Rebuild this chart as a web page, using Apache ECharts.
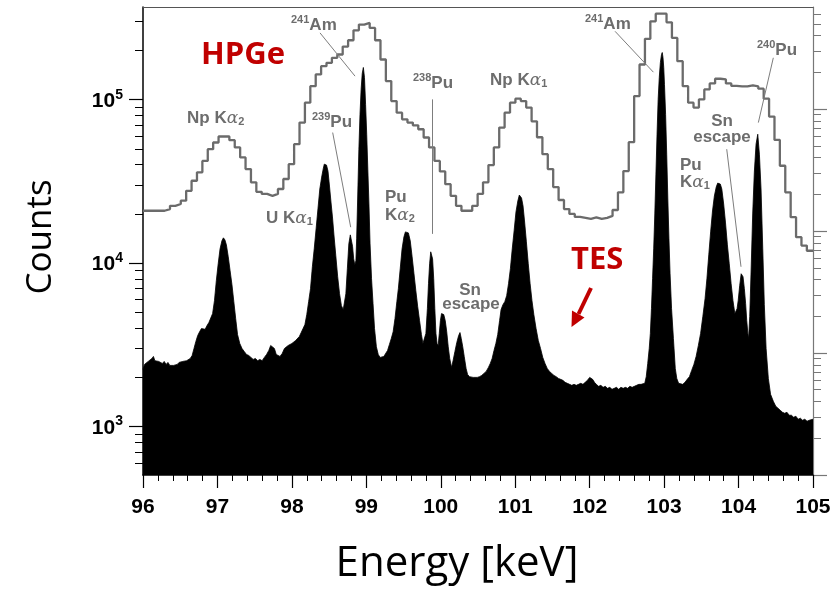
<!DOCTYPE html>
<html><head><meta charset="utf-8">
<script src="https://cdn.jsdelivr.net/npm/echarts@6/dist/echarts.min.js"></script>
<style>html,body{margin:0;padding:0;background:#fff}#c{width:836px;height:590px}</style>
</head><body><div id="c"></div>
<script>
// ---------------- data ----------------
const tesEnergy = [
96.000,96.020,96.045,96.070,96.095,96.120,96.140,96.160,96.185,96.210,96.235,96.260,96.285,96.310,96.335,96.360,96.385,96.410,96.435,96.460,
96.485,96.510,96.535,96.560,96.585,96.610,96.635,96.660,96.685,96.710,96.735,96.760,96.785,96.810,96.835,96.860,96.885,96.910,96.935,96.960,
96.985,97.010,97.035,97.060,97.080,97.100,97.120,97.145,97.170,97.195,97.220,97.245,97.270,97.300,97.330,97.360,97.390,97.420,97.450,97.480,
97.510,97.540,97.570,97.600,97.630,97.660,97.690,97.715,97.740,97.765,97.790,97.815,97.840,97.870,97.900,97.925,97.950,97.975,98.000,98.025,
98.050,98.075,98.100,98.125,98.150,98.175,98.200,98.225,98.250,98.275,98.300,98.325,98.350,98.375,98.400,98.420,98.435,98.450,98.465,98.485,
98.505,98.525,98.545,98.565,98.590,98.615,98.640,98.665,98.690,98.710,98.725,98.745,98.765,98.785,98.800,98.815,98.830,98.845,98.860,98.870,
98.885,98.900,98.915,98.930,98.945,98.960,98.975,98.990,99.005,99.020,99.035,99.050,99.070,99.090,99.110,99.135,99.160,99.185,99.210,99.235,
99.260,99.285,99.310,99.335,99.360,99.385,99.410,99.430,99.455,99.480,99.505,99.525,99.545,99.565,99.590,99.615,99.640,99.665,99.690,99.715,
99.740,99.760,99.780,99.800,99.820,99.835,99.850,99.865,99.878,99.890,99.905,99.920,99.935,99.950,99.965,99.980,99.995,100.010,100.025,100.040,
100.060,100.080,100.100,100.120,100.145,100.165,100.190,100.215,100.240,100.258,100.275,100.295,100.315,100.340,100.360,100.385,100.410,100.435,100.460,100.490,
100.520,100.550,100.580,100.610,100.640,100.665,100.690,100.715,100.740,100.765,100.790,100.810,100.835,100.860,100.885,100.910,100.935,100.960,100.985,101.010,
101.035,101.055,101.070,101.085,101.105,101.125,101.150,101.175,101.200,101.225,101.250,101.280,101.310,101.340,101.370,101.400,101.430,101.460,101.490,101.520,
101.550,101.580,101.610,101.640,101.670,101.700,101.730,101.760,101.790,101.820,101.850,101.880,101.910,101.940,101.970,102.000,102.020,102.040,102.065,102.090,
102.120,102.150,102.180,102.210,102.240,102.270,102.300,102.330,102.360,102.390,102.420,102.450,102.480,102.510,102.540,102.570,102.600,102.630,102.660,102.690,
102.715,102.740,102.760,102.780,102.800,102.815,102.830,102.845,102.860,102.875,102.890,102.905,102.920,102.935,102.950,102.965,102.975,102.985,102.995,103.005,
103.020,103.035,103.050,103.065,103.080,103.100,103.125,103.150,103.170,103.195,103.220,103.250,103.280,103.310,103.340,103.370,103.400,103.430,103.460,103.490,
103.520,103.550,103.575,103.600,103.625,103.650,103.675,103.700,103.720,103.735,103.755,103.775,103.800,103.825,103.850,103.875,103.900,103.925,103.950,103.965,
103.980,103.995,104.015,104.035,104.045,104.060,104.078,104.095,104.110,104.125,104.135,104.150,104.168,104.190,104.212,104.235,104.258,104.280,104.302,104.325,
104.346,104.370,104.400,104.430,104.467,104.500,104.530,104.560,104.590,104.620,104.650,104.680,104.710,104.740,104.770,104.800,104.830,104.860,104.890,104.920,
104.950,104.975,105.000
];
const tesCounts = [
2236,2398,2332,2502,2467,2609,2684,2526,2573,2502,2526,2432,2502,2398,2467,2365,2432,2365,2432,2398,
2467,2432,2502,2467,2526,2502,2609,2721,3002,3313,3603,3795,3975,4032,3935,4146,4325,4387,4908,5891,
7801,9904,12220,13680,14270,13870,12930,10930,8978,7373,5808,4576,3654,3221,3002,2879,2760,2721,2647,2573,
2609,2526,2573,2526,2647,2760,2919,3131,3176,3002,2760,2684,2684,2799,3002,3075,3131,3176,3221,3266,
3359,3454,3553,3758,3975,4206,4840,5808,6971,9494,12220,16190,21440,28390,33590,37580,40320,41290,39770,36540,
29610,23650,19160,14880,11080,8252,6498,5490,5192,5264,6498,9232,13120,14880,14680,12660,10620,9763,10330,14070,
26460,49770,81370,115600,144700,157400,136800,93620,61430,37580,22990,13120,8024,5646,3975,3075,2760,2647,2609,2684,
2760,2919,3176,3454,3795,4576,5808,6971,9232,12220,14470,15520,15960,15300,13680,10930,8604,6778,5415,4447,
3654,3221,3176,3706,5264,7480,9904,11720,12050,10620,8024,5264,3706,3221,3131,3706,4447,4908,5026,4840,
4447,3795,3075,2609,2300,2526,2879,3266,3603,3758,3454,3075,2684,2267,2084,2018,2055,1998,2018,1998,
2018,2055,2113,2174,2300,2432,2609,2919,3221,3654,4447,5192,5567,5808,6318,7480,9232,12220,15740,20550,
23980,26080,26460,25010,22360,18110,13490,9904,7480,5891,4840,3975,3359,3002,2647,2432,2267,2174,2113,2055,
2018,1970,1943,1916,1863,1837,1811,1786,1811,1786,1811,1837,1811,1863,1916,1998,2018,1943,1863,1811,
1761,1786,1736,1761,1712,1736,1688,1712,1736,1688,1736,1712,1736,1712,1761,1736,1761,1786,1811,1811,
1837,1837,2018,2432,3002,3706,5264,8024,12220,19980,35040,61430,100400,136800,168900,188900,194300,181100,157400,124000,
81370,46400,24670,14070,8604,5264,3454,2267,1970,1837,1786,1811,1863,1943,2018,2204,2398,2684,3131,3706,
4706,6058,8024,11230,15520,20840,25730,29200,30870,31180,30440,28390,22990,17610,12930,9904,7480,5891,4908,4840,
5264,5891,7271,8604,8815,8252,6971,5646,4447,3706,3454,4706,8815,19980,36040,53380,61430,46400,28390,12220,
5567,3002,1970,1574,1427,1330,1293,1257,1222,1205,1222,1172,1172,1139,1156,1108,1124,1092,1108,1077,
1092,1062,1108
];
// HPGe histogram: left bin edges (keV) and counts per bin
const hpgeEnergy = [
96.0000,96.0725,96.1450,96.2175,96.2900,96.3625,96.4350,96.5075,96.5800,96.6525,96.7250,96.7975,96.8700,96.9425,97.0150,97.0875,
97.1600,97.2325,97.3050,97.3775,97.4500,97.5225,97.5950,97.6675,97.7400,97.8125,97.8850,97.9575,98.0300,98.1025,98.1750,98.2475,
98.3200,98.3925,98.4650,98.5375,98.6100,98.6825,98.7550,98.8275,98.9000,98.9725,99.0450,99.1175,99.1900,99.2625,99.3350,99.4075,
99.4800,99.5525,99.6250,99.6975,99.7700,99.8425,99.9150,99.9875,100.0600,100.1325,100.2050,100.2775,100.3500,100.4225,100.4950,100.5675,
100.6400,100.7125,100.7850,100.8575,100.9300,101.0025,101.0750,101.1475,101.2200,101.2925,101.3650,101.4375,101.5100,101.5825,101.6550,101.7275,
101.8000,101.8725,101.9450,102.0175,102.0900,102.1625,102.2350,102.3075,102.3800,102.4525,102.5250,102.5975,102.6700,102.7425,102.8150,102.8875,
102.9600,103.0325,103.1050,103.1775,103.2500,103.3225,103.3950,103.4675,103.5400,103.6125,103.6850,103.7575,103.8300,103.9025,103.9750,104.0475,
104.1200,104.1925,104.2650,104.3375,104.4100,104.4825,104.5550,104.6275,104.7000,104.7725,104.8450,104.9175,105.0000
];
const hpgeCounts = [
20900,20900,20900,20900,21400,22400,23000,24100,27700,31900,35900,42200,49800,54700,59500,59500,
56500,51000,44300,37600,31200,27300,26500,25800,26500,28400,32700,40300,53400,72400,95900,121000,
142700,160300,168100,180400,188900,211300,230900,265700,287900,294800,274800,230900,176100,129900,98100,83300,
75850,72400,69700,65900,58660,51000,42200,36390,30400,25800,22400,20900,20900,22400,26500,31200,
39770,51000,67500,83300,95900,101400,98100,89400,73700,58900,46400,37600,29200,24320,21400,19980,
19160,18900,18630,19030,18630,18900,19430,21130,27100,36540,54900,105200,164100,235500,301500,335900,
335900,297300,238800,172000,121000,95900,89400,100400,115600,125700,134300,133000,125700,121400,120500,120500,
122200,120500,116700,101400,78800,56700,39400,27100,19100,14400,12800,11900,11900
];
// axis ticks
const xMin = 96, xMax = 105, xStep = 1;
const yMajorTicks = [1000, 10000, 100000];
const yMinorTicks = [600,700,800,900,2000,3000,4000,5000,6000,7000,8000,9000,
  20000,30000,40000,50000,60000,70000,80000,90000,200000,300000];
const rightMajorTicks = [1, 10, 100, 1000];
const rightMinorTicks = [2,3,4,5,6,7,8,9,20,30,40,50,60,70,80,90,200,300,400,500,600,700,800,900,2000,3000,4000,5000,6000];
// annotation leader lines [[E1,count1],[E2,count2]]
const leaderLines = [
  [[98.378, 256200], [98.848, 139300]],
  [[98.548, 62920], [98.790, 16580]],
  [[99.892, 100400], [99.892, 15090]],
  [[102.341, 262000], [102.856, 147300]],
  [[104.467, 180400], [104.266, 72400]],
  [[103.841, 49770], [104.033, 9495]]
];

// ---------------- chart ----------------
const chart = echarts.init(document.getElementById('c'), null, {renderer: 'canvas'});
const GRAY = '#6b6b6b';
const ANN = '#6d6d6d';
const lbl = {
  m: {fontFamily: 'Liberation Sans', fontWeight: 'bold', fontSize: 17, lineHeight: 20, verticalAlign: 'bottom', fill: ANN, color: ANN},
  a: {fontFamily: 'DejaVu Serif', fontStyle: 'italic', fontSize: 17, lineHeight: 20, verticalAlign: 'bottom', fill: ANN, color: ANN},
  sup: {fontFamily: 'Liberation Sans', fontWeight: 'bold', fontSize: 11, lineHeight: 11, verticalAlign: 'top', fill: ANN, color: ANN},
  sub: {fontFamily: 'Liberation Sans', fontWeight: 'bold', fontSize: 11, lineHeight: 11, verticalAlign: 'bottom', fill: ANN, color: ANN}
};
function ann(x, y, text, align) {
  return {type: 'text', x: x, y: y, z: 100, silent: true,
    style: {text: text, rich: lbl, fill: ANN, font: 'bold 17px "Liberation Sans"',
      textAlign: align || 'left', align: align || 'left', textVerticalAlign: 'middle', verticalAlign: 'middle'}};
}
function big(x, y, text) {
  return {type: 'text', x: x, y: y, z: 100, silent: true,
    style: {text: text, fill: '#c00000', font: 'bold 31px "Open Sans"', textAlign: 'left', align: 'left',
      textVerticalAlign: 'middle', verticalAlign: 'middle'}};
}

const option = {
  animation: false,
  backgroundColor: '#fff',
  grid: {left: 143, right: 23, top: 7, bottom: 113, containLabel: false},
  xAxis: [
    {type: 'value', min: xMin, max: xMax, interval: xStep, position: 'bottom',
     name: 'Energy [keV]', nameLocation: 'middle', nameGap: 68,
     nameTextStyle: {fontFamily: 'Open Sans', fontSize: 42, color: '#000', padding: [0, 42, 0, 0]},
     axisLine: {show: true, onZero: false, lineStyle: {color: '#000', width: 1.5}},
     axisTick: {show: true, length: 13, inside: false, lineStyle: {color: '#000', width: 1.2}},
     minorTick: {show: true, splitNumber: 5, length: 6, lineStyle: {color: '#000', width: 1}},
     axisLabel: {margin: 22, fontFamily: 'Liberation Sans', fontWeight: 'bold', fontSize: 21, color: '#000'},
     splitLine: {show: false}, minorSplitLine: {show: false}},
    {type: 'value', min: xMin, max: xMax, position: 'top',
     axisLine: {show: true, onZero: false, lineStyle: {color: '#555', width: 1.2}},
     axisTick: {show: false}, axisLabel: {show: false}, splitLine: {show: false}}
  ],
  yAxis: [
    {type: 'log', logBase: 10, min: 505, max: 369000, position: 'left',
     name: 'Counts', nameLocation: 'middle', nameGap: 84, nameRotate: 90,
     nameTextStyle: {fontFamily: 'Open Sans', fontSize: 35, color: '#000', padding: [0, 0, 0, 8]},
     axisLine: {show: true, onZero: false, lineStyle: {color: '#000', width: 1.5}},
     axisTick: {show: true, customValues: yMajorTicks, length: 14, lineStyle: {color: '#000', width: 1.2}},
     axisLabel: {customValues: yMajorTicks, margin: 20,
       formatter: function (v) { return '{b|10}{s|' + Math.round(Math.log10(v)) + '}'; },
       rich: {
         b: {fontFamily: 'Liberation Sans', fontWeight: 'bold', fontSize: 21, lineHeight: 24, verticalAlign: 'bottom', color: '#000'},
         s: {fontFamily: 'Liberation Sans', fontWeight: 'bold', fontSize: 14, lineHeight: 14, verticalAlign: 'top', color: '#000'}
       }},
     splitLine: {show: false}},
    {type: 'log', logBase: 10, min: 505, max: 369000, position: 'left',
     axisLine: {show: false},
     axisTick: {show: true, customValues: yMinorTicks, length: 8, lineStyle: {color: '#000', width: 1}},
     axisLabel: {show: false}, splitLine: {show: false}},
    {type: 'log', logBase: 10, min: 1, max: 6871, position: 'right',
     axisLine: {show: true, onZero: false, lineStyle: {color: '#777', width: 1.2}},
     axisTick: {show: true, customValues: rightMajorTicks, length: 14, lineStyle: {color: '#777', width: 1.2}},
     axisLabel: {show: false}, splitLine: {show: false}},
    {type: 'log', logBase: 10, min: 1, max: 6871, position: 'right',
     axisLine: {show: false},
     axisTick: {show: true, customValues: rightMinorTicks, length: 8, lineStyle: {color: '#777', width: 1}},
     axisLabel: {show: false}, splitLine: {show: false}}
  ],
  series: [
    {name: 'TES', type: 'line', xAxisIndex: 0, yAxisIndex: 0, z: 2,
     data: tesEnergy.map(function (e, i) { return [e, tesCounts[i]]; }),
     showSymbol: false, symbol: 'none', sampling: null,
     lineStyle: {color: '#000', width: 0.8},
     areaStyle: {color: '#000', opacity: 1, origin: 'start'}},
    {name: 'HPGe', type: 'line', xAxisIndex: 0, yAxisIndex: 0, z: 3, step: 'end',
     data: hpgeEnergy.map(function (e, i) { return [e, hpgeCounts[i]]; }),
     showSymbol: false, symbol: 'none',
     lineStyle: {color: GRAY, width: 2.3},
     markLine: {silent: true, symbol: ['none', 'none'], animation: false,
       label: {show: false}, emphasis: {disabled: true},
       lineStyle: {color: '#7d7d7d', width: 1, type: 'solid'},
       data: leaderLines.map(function (l) { return [{coord: l[0]}, {coord: l[1]}]; })}}
  ],
  graphic: [
    big(201, 55, 'HPGe'),
    big(571, 260, 'TES'),
    {type: 'line', z: 100, silent: true, shape: {x1: 591, y1: 288, x2: 578.5, y2: 314},
     style: {stroke: '#c00000', lineWidth: 4}},
    {type: 'polygon', z: 100, silent: true, shape: {points: [[571.5, 327], [584.5, 317.5], [572, 310.5]]},
     style: {fill: '#c00000'}},
    ann(187, 117, '{m|Np K}{a|α}{sub|2}'),
    ann(291, 24, '{sup|241}{m|Am}'),
    ann(312, 121, '{sup|239}{m|Pu}'),
    ann(266, 217, '{m|U K}{a|α}{sub|1}'),
    ann(385, 196, '{m|Pu}'),
    ann(385, 214, '{m|K}{a|α}{sub|2}'),
    ann(413, 82, '{sup|238}{m|Pu}'),
    ann(490, 79, '{m|Np K}{a|α}{sub|1}'),
    ann(470, 289, '{m|Sn}', 'center'),
    ann(471, 303, '{m|escape}', 'center'),
    ann(585, 23, '{sup|241}{m|Am}'),
    ann(757, 49, '{sup|240}{m|Pu}'),
    ann(722, 120, '{m|Sn}', 'center'),
    ann(722, 136, '{m|escape}', 'center'),
    ann(680, 164, '{m|Pu}'),
    ann(680, 181, '{m|K}{a|α}{sub|1}')
  ]
};
chart.setOption(option);
</script>
</body></html>
